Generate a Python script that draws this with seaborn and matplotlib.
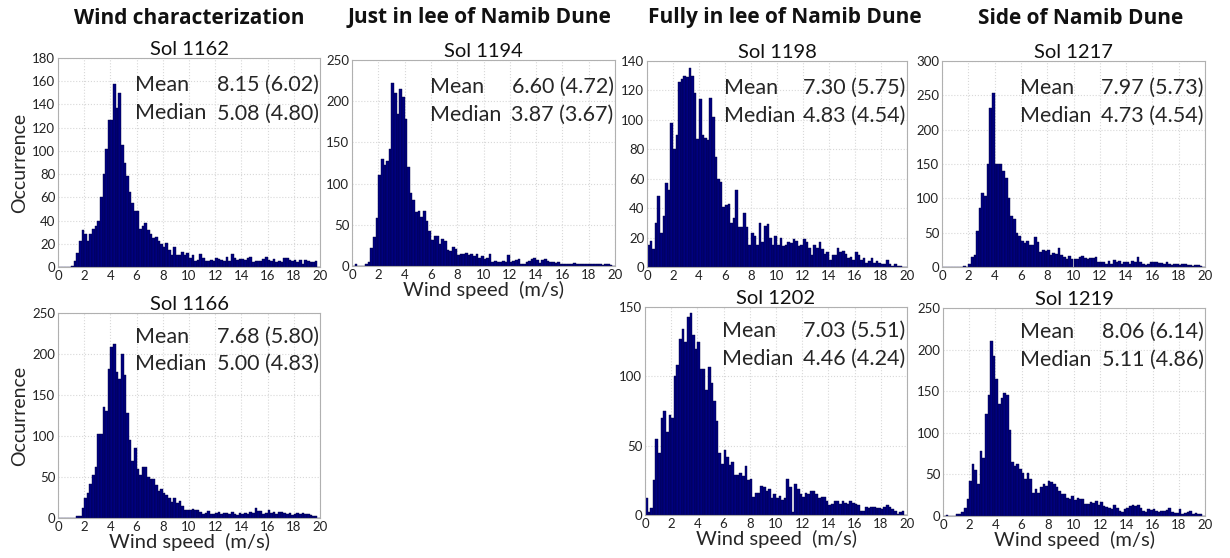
import numpy as np
import pandas as pd
import matplotlib
matplotlib.use("Agg")
import matplotlib.pyplot as plt
import seaborn as sns

# ---------------- data (counts per 0.2 m/s bin, 0..20 m/s) ----------------
bin_width = 0.2
bin_centers = np.round(np.arange(0.1, 20.0, 0.2), 2)

sol_1162 = [0, 0, 0, 0, 0, 1, 5, 12, 22, 32,
            28, 22, 28, 33, 35, 40, 60, 80, 102, 127,
            127, 158, 137, 150, 105, 90, 78, 65, 55, 48,
            48, 33, 35, 38, 32, 28, 25, 26, 22, 20,
            17, 21, 15, 10, 17, 10, 10, 13, 10, 12,
            8, 10, 5, 6, 11, 8, 5, 5, 6, 5,
            8, 7, 6, 5, 9, 5, 11, 8, 6, 7,
            7, 6, 8, 9, 4, 5, 5, 5, 7, 9,
            6, 5, 7, 4, 5, 4, 8, 8, 6, 5,
            6, 4, 6, 3, 6, 5, 4, 4, 5, 0]
sol_1194 = [0, 3, 0, 0, 0, 2, 5, 22, 35, 58,
            110, 130, 122, 128, 142, 222, 210, 185, 215, 205,
            178, 120, 88, 80, 66, 67, 60, 67, 55, 43,
            32, 37, 36, 27, 33, 30, 20, 18, 23, 21,
            13, 14, 14, 16, 13, 15, 12, 14, 10, 12,
            8, 10, 15, 5, 6, 5, 5, 6, 5, 13,
            5, 6, 7, 8, 3, 3, 5, 6, 8, 10,
            7, 4, 7, 8, 6, 5, 5, 4, 5, 3,
            3, 2, 3, 2, 4, 2, 2, 3, 2, 2,
            3, 2, 3, 2, 2, 1, 3, 2, 1, 0]
sol_1198 = [15, 18, 12, 30, 48, 23, 35, 57, 52, 98,
            80, 90, 126, 128, 130, 129, 135, 130, 118, 87,
            114, 90, 88, 86, 115, 102, 75, 60, 58, 41,
            42, 43, 30, 33, 52, 27, 27, 37, 27, 15,
            23, 21, 15, 30, 17, 28, 29, 20, 15, 21,
            15, 20, 14, 15, 17, 16, 19, 18, 14, 15,
            19, 17, 13, 8, 15, 13, 17, 12, 9, 10,
            5, 8, 8, 13, 10, 11, 9, 6, 7, 5,
            10, 8, 5, 6, 3, 4, 6, 3, 4, 3,
            2, 2, 5, 2, 1, 2, 1, 1, 0, 0]
sol_1217 = [0, 0, 0, 0, 0, 0, 0, 0, 1, 0,
            5, 15, 18, 52, 86, 108, 104, 150, 232, 253,
            150, 150, 150, 140, 130, 100, 75, 70, 50, 45,
            38, 35, 38, 32, 32, 43, 37, 22, 25, 24,
            25, 18, 20, 19, 27, 17, 15, 12, 16, 11,
            12, 12, 14, 16, 13, 12, 13, 13, 14, 8,
            7, 8, 5, 9, 5, 10, 8, 9, 5, 8,
            8, 5, 9, 8, 15, 7, 5, 3, 4, 7,
            7, 7, 6, 6, 5, 8, 4, 3, 4, 5,
            3, 4, 5, 3, 3, 2, 3, 3, 2, 0]
sol_1166 = [0, 0, 0, 0, 0, 0, 0, 2, 3, 12,
            25, 30, 42, 52, 62, 102, 103, 135, 130, 182,
            208, 212, 178, 170, 200, 175, 128, 95, 70, 85,
            60, 53, 62, 62, 50, 48, 47, 40, 33, 35,
            30, 28, 25, 20, 25, 18, 21, 15, 10, 10,
            10, 11, 10, 10, 7, 5, 6, 8, 5, 5,
            6, 7, 5, 6, 6, 5, 7, 5, 4, 6,
            5, 6, 5, 7, 6, 12, 8, 8, 5, 6,
            10, 6, 7, 5, 7, 7, 6, 5, 6, 4,
            5, 6, 5, 6, 5, 5, 4, 3, 2, 0]
sol_1202 = [12, 2, 5, 25, 55, 45, 70, 75, 60, 72,
            70, 100, 108, 127, 134, 125, 143, 146, 130, 120,
            125, 105, 105, 90, 107, 95, 82, 68, 45, 37,
            47, 42, 36, 38, 29, 29, 30, 28, 35, 25,
            26, 13, 16, 16, 21, 20, 17, 19, 12, 15,
            12, 14, 11, 12, 26, 20, 2, 22, 19, 15,
            13, 16, 15, 17, 17, 15, 12, 13, 13, 10,
            7, 8, 10, 10, 8, 10, 9, 8, 10, 9,
            8, 7, 3, 3, 6, 5, 6, 6, 5, 5,
            4, 6, 7, 6, 4, 3, 1, 2, 3, 0]
sol_1219 = [0, 1, 0, 0, 0, 2, 3, 5, 10, 20,
            42, 62, 55, 38, 78, 70, 122, 145, 210, 192,
            165, 135, 142, 148, 145, 103, 65, 60, 62, 56,
            52, 45, 52, 45, 28, 32, 28, 35, 38, 36,
            42, 41, 38, 35, 30, 27, 26, 22, 20, 24,
            19, 22, 21, 20, 15, 14, 17, 16, 18, 13,
            17, 12, 11, 10, 8, 13, 10, 6, 5, 8,
            10, 12, 13, 12, 13, 10, 6, 5, 9, 7,
            8, 6, 5, 6, 6, 7, 10, 5, 4, 4,
            9, 3, 4, 5, 6, 3, 4, 3, 2, 0]

sols = ["Sol 1162", "Sol 1194", "Sol 1198", "Sol 1217", "Sol 1166", "Sol 1202", "Sol 1219"]
series = [sol_1162, sol_1194, sol_1198, sol_1217, sol_1166, sol_1202, sol_1219]
means = ["8.15 (6.02)", "6.60 (4.72)", "7.30 (5.75)", "7.97 (5.73)", "7.68 (5.80)", "7.03 (5.51)", "8.06 (6.14)"]
medians = ["5.08 (4.80)", "3.87 (3.67)", "4.83 (4.54)", "4.73 (4.54)", "5.00 (4.83)", "4.46 (4.24)", "5.11 (4.86)"]
ymaxes = [180, 250, 140, 300, 250, 150, 250]
ysteps = [20, 50, 20, 50, 50, 50, 50]
column_titles = ["Wind characterization", "Just in lee of Namib Dune",
                 "Fully in lee of Namib Dune", "Side of Namib Dune"]
xticks = [0, 2, 4, 6, 8, 10, 12, 14, 16, 18, 20]

# ---------------- style ----------------
sns.set_theme(style="white")
FONT = ["Lato", "DejaVu Sans"]
plt.rcParams["font.family"] = FONT

fig = plt.figure(figsize=(12.3, 5.58), dpi=100)
W, H = 1230.0, 558.0
# pixel boxes: left, top, right, bottom
boxes = [(58, 58, 320, 267), (352, 60, 615, 266), (647, 61, 907, 267), (942, 61, 1205, 267),
         (58, 313, 320, 518), (645, 307, 907, 515), (943, 308, 1205, 516)]
has_ylabel = [True, False, False, False, True, False, False]
has_xlabel = [False, True, False, False, True, True, True]

BAR = "#00007f"
for i, (l, t, r, b) in enumerate(boxes):
    ax = fig.add_axes([l / W, 1 - b / H, (r - l) / W, (b - t) / H])
    df = pd.DataFrame({"speed": bin_centers, "count": np.asarray(series[i], dtype=float)})
    sns.histplot(data=df, x="speed", weights="count", binwidth=bin_width, binrange=(0, 20),
                 ax=ax, color=BAR, edgecolor="#000040", linewidth=0.3, alpha=1.0)
    ax.set_xlim(0, 20)
    ax.set_ylim(0, ymaxes[i])
    ax.set_xticks(xticks)
    ax.set_yticks(np.arange(0, ymaxes[i] + 1, ysteps[i]))
    ax.grid(True, color="#d8d8d8", linestyle=":", linewidth=0.8)
    ax.set_axisbelow(True)
    for s in ax.spines.values():
        s.set_color("#b0b0b0")
        s.set_linewidth(0.8)
    ax.tick_params(axis="both", length=0, labelsize=9.5, pad=2, colors="#222222")
    ax.set_title(sols[i], fontsize=14.5, pad=2, color="#111111")
    ax.set_ylabel("Occurrence" if has_ylabel[i] else "", fontsize=14, labelpad=3)
    ax.set_xlabel("Wind speed  (m/s)" if has_xlabel[i] else "", fontsize=14.5, labelpad=0)
    ytop = 0.87 if i < 4 else 0.885
    fs = 15.5
    ax.text(0.295, ytop, "Mean", transform=ax.transAxes, ha="left", va="center", fontsize=fs)
    ax.text(0.995, ytop, means[i], transform=ax.transAxes, ha="right", va="center", fontsize=fs)
    ax.text(0.295, ytop - 0.135, "Median", transform=ax.transAxes, ha="left", va="center", fontsize=fs)
    ax.text(0.995, ytop - 0.135, medians[i], transform=ax.transAxes, ha="right", va="center", fontsize=fs)

col_centers = [189, 480, 785, 1081]
for c, title in zip(col_centers, column_titles):
    fig.text(c / W, 1 - 18 / H, title, ha="center", va="center", fontsize=15,
             fontweight="bold", color="#111111", family=["Open Sans", "DejaVu Sans"])

fig.savefig("out.png", dpi=100)
